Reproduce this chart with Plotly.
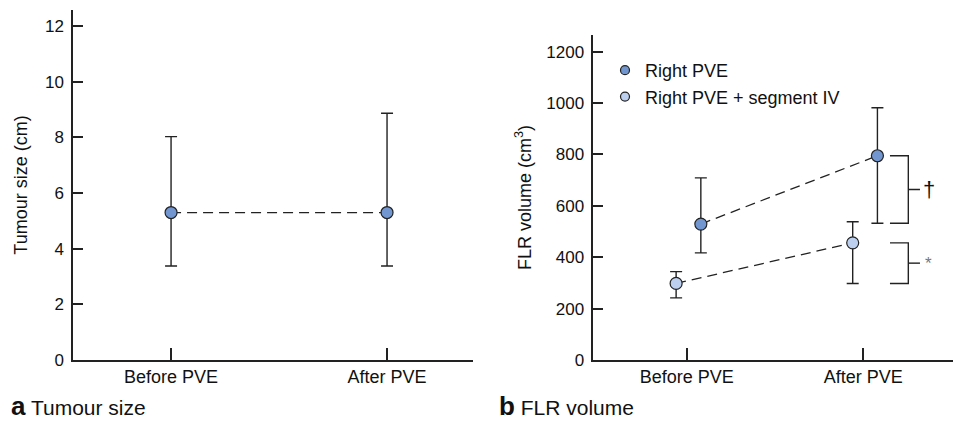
import plotly.graph_objects as go

# ---------------- data ----------------
categories = ["Before PVE", "After PVE"]

# Panel a: tumour size (cm)
tumour_mean = [5.3, 5.3]
tumour_upper = [8.03, 8.87]
tumour_lower = [3.38, 3.38]

# Panel b: FLR volume (cm3)
right_pve_mean = [529, 795]
right_pve_upper = [709, 982]
right_pve_lower = [417, 532]

seg4_mean = [298, 456]
seg4_upper = [344, 538]
seg4_lower = [242, 298]

series_names = ["Right PVE", "Right PVE + segment IV"]
y_ticks_a = [0, 2, 4, 6, 8, 10, 12]
y_ticks_b = [0, 200, 400, 600, 800, 1000, 1200]

# ---------------- style ----------------
FONT = "Liberation Sans, Arial, Helvetica, sans-serif"
INK = "#222222"
DARK_BLUE = "#7196d0"
LIGHT_BLUE = "#bccfee"
W, H = 953, 423
DASH = "10px,6px"

xpos = [0, 1]
off_right = 0.08
off_seg4 = -0.06


def errs(mean, upper, lower):
    return dict(type="data", symmetric=False,
                array=[u - m for u, m in zip(upper, mean)],
                arrayminus=[m - l for m, l in zip(mean, lower)],
                color=INK, thickness=1.4, width=6)


fig = go.Figure()

# Panel a
fig.add_trace(go.Scatter(
    x=xpos, y=tumour_mean, mode="lines+markers", xaxis="x", yaxis="y",
    line=dict(color=INK, width=1.3, dash=DASH),
    marker=dict(size=12, color=DARK_BLUE, line=dict(color=INK, width=1.2)),
    error_y=errs(tumour_mean, tumour_upper, tumour_lower),
    showlegend=False, hoverinfo="y"))

# Panel b
fig.add_trace(go.Scatter(
    x=[v + off_right for v in xpos], y=right_pve_mean, mode="lines+markers",
    xaxis="x2", yaxis="y2",
    line=dict(color=INK, width=1.3, dash=DASH),
    marker=dict(size=12, color=DARK_BLUE, line=dict(color=INK, width=1.2)),
    error_y=errs(right_pve_mean, right_pve_upper, right_pve_lower),
    showlegend=False, name=series_names[0]))
fig.add_trace(go.Scatter(
    x=[v + off_seg4 for v in xpos], y=seg4_mean, mode="lines+markers",
    xaxis="x2", yaxis="y2",
    line=dict(color=INK, width=1.3, dash=DASH),
    marker=dict(size=12, color=LIGHT_BLUE, line=dict(color=INK, width=1.2)),
    error_y=errs(seg4_mean, seg4_upper, seg4_lower),
    showlegend=False, name=series_names[1]))

# legend-only entries (markers only)
for nm, col in zip(series_names, [DARK_BLUE, LIGHT_BLUE]):
    fig.add_trace(go.Scatter(
        x=[None], y=[None], mode="markers", xaxis="x2", yaxis="y2", name=nm,
        marker=dict(size=9, color=col, line=dict(color=INK, width=1.2))))

# significance brackets
bx0, bx1, bx2 = 1.151, 1.255, 1.321
for top, bot, sym, col, sz in [(right_pve_mean[1], right_pve_lower[1], "†", "#111111", 22),
                               (seg4_mean[1], seg4_lower[1], "*", "#777777", 17)]:
    mid = (top + bot) / 2
    fig.add_shape(type="path", xref="x2", yref="y2",
                  path=f"M {bx0},{top} L {bx1},{top} L {bx1},{bot} L {bx0},{bot}",
                  line=dict(color=INK, width=1.4))
    fig.add_shape(type="line", xref="x2", yref="y2", x0=bx1, x1=bx2, y0=mid, y1=mid,
                  line=dict(color=INK, width=1.4))
    fig.add_annotation(x=1.372, y=mid, xref="x2", yref="y2", text=sym, showarrow=False,
                       font=dict(family=FONT, size=sz, color=col),
                       xanchor="center", yanchor="middle")

# panel captions
fig.add_annotation(x=9 / W, y=0, xref="paper", yref="paper", showarrow=False,
                   xanchor="left", yanchor="bottom",
                   text="<b>a</b><span style='font-size:21px'> Tumour size</span>",
                   font=dict(family=FONT, size=26, color="#111111"))
fig.add_annotation(x=497 / W, y=0, xref="paper", yref="paper", showarrow=False,
                   xanchor="left", yanchor="bottom",
                   text="<b>b</b><span style='font-size:21px'> FLR volume</span>",
                   font=dict(family=FONT, size=26, color="#111111"))

axis_common = dict(showline=True, linecolor=INK, linewidth=1.5, showgrid=False,
                   zeroline=False, ticks="inside", tickcolor=INK, tickwidth=1.5,
                   automargin=False)

ybot = 1 - 360 / H
fig.update_layout(
    width=W, height=H,
    margin=dict(l=0, r=0, t=0, b=0),
    paper_bgcolor="white", plot_bgcolor="white",
    font=dict(family=FONT, color="#111111"),
    xaxis=dict(axis_common, domain=[73 / W, 473 / W], range=[-0.454, 1.398],
               tickvals=xpos, ticktext=categories, ticklen=12,
               tickfont=dict(size=18), anchor="y"),
    yaxis=dict(axis_common, domain=[ybot, 1 - 10 / H], range=[0, 12.58],
               tickvals=y_ticks_a, ticklen=10, tickfont=dict(size=17),
               title=dict(text="Tumour size (cm)", font=dict(size=18), standoff=13),
               anchor="x", ticklabelstandoff=4),
    xaxis2=dict(axis_common, domain=[593.3 / W, 1.0], range=[-0.529, 1.508],
                tickvals=xpos, ticktext=categories, ticklen=12,
                tickfont=dict(size=18), anchor="y2"),
    yaxis2=dict(axis_common, domain=[ybot, 1 - 35 / H], range=[0, 1265],
                tickvals=y_ticks_b, ticklen=10, tickfont=dict(size=17),
                title=dict(text="FLR volume (cm<sup>3</sup>)", font=dict(size=18), standoff=10),
                anchor="x2", ticklabelstandoff=4),
    legend=dict(x=605 / W, y=1 - 52 / H, xanchor="left", yanchor="top",
                bgcolor="rgba(0,0,0,0)", font=dict(size=18, family=FONT),
                itemwidth=30, tracegroupgap=2),
)

fig.write_html("out.html", config={"displayModeBar": False},
               post_script="document.body.style.margin='0';document.body.style.overflow='hidden';")
